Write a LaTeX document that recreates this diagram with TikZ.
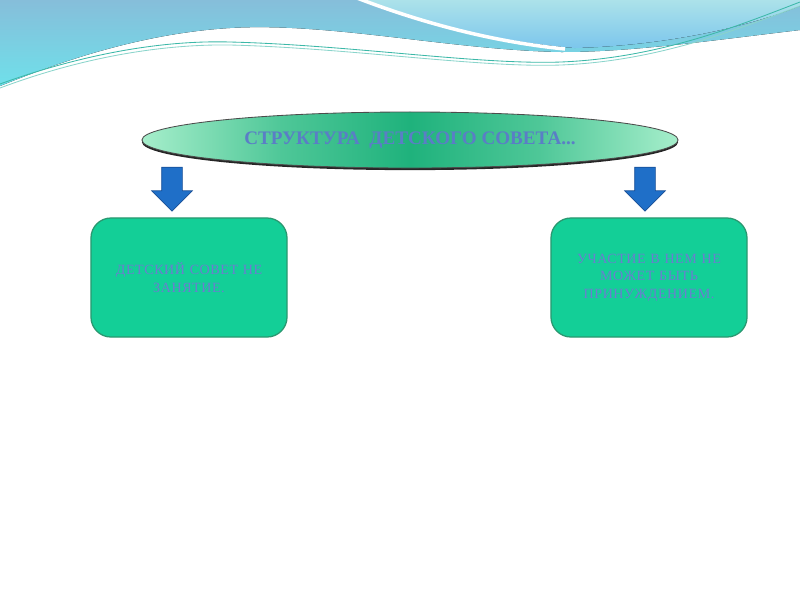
\documentclass[tikz,border=0pt]{standalone}
\usepackage{fontspec}
\setmainfont{Liberation Serif}
\usetikzlibrary{positioning,shapes.geometric,shapes.arrows,shadows}

\definecolor{waveblue}{HTML}{86BEDA}
\definecolor{wavecyan}{HTML}{6FE0EA}
\definecolor{wavelight}{HTML}{ACE2EA}
\definecolor{wavemid}{HTML}{7CC6EC}
\definecolor{waveline}{HTML}{3CB8A8}
\definecolor{ovalmid}{HTML}{1FB27C}
\definecolor{ovaledge}{HTML}{A6EECB}
\definecolor{boxgreen}{HTML}{13CF97}
\definecolor{boxedge}{HTML}{2A9870}
\definecolor{labelblue}{HTML}{6A7ED0}
\definecolor{titleblue}{HTML}{5A7EC6}
\definecolor{arrowblue}{HTML}{1F6FC8}
\definecolor{arrowedge}{HTML}{174E96}

\pgfdeclarehorizontalshading{ovalshade}{100bp}{color(0bp)=(ovaledge); color(25bp)=(ovaledge);
  color(38bp)=(ovalmid!65!ovaledge); color(50bp)=(ovalmid); color(62bp)=(ovalmid!65!ovaledge);
  color(75bp)=(ovaledge); color(100bp)=(ovaledge)}

\begin{document}
\begin{tikzpicture}[
  x=0.025cm,y=-0.025cm,
  titleoval/.style={ellipse,draw=black!70,line width=0.6pt,shading=ovalshade,
    minimum width=13.4cm,minimum height=1.4cm,text=titleblue,font=\bfseries\fontsize{13.6}{16}\selectfont,
    drop shadow={shadow xshift=0pt,shadow yshift=-1.5pt,fill=black,opacity=0.85}},
  infobox/.style={draw=boxedge,line width=0.9pt,fill=boxgreen,rounded corners=0.5cm,
    minimum width=4.9cm,minimum height=2.975cm,text width=4.5cm,align=center,
    text=labelblue,font=\addfontfeature{LetterSpace=4}\fontsize{10}{12.4}\selectfont},
  downarrow/.style={single arrow,rotate=-90,draw=arrowedge,fill=arrowblue,line width=0.5pt,
    minimum height=1.1cm,minimum width=1.0cm,single arrow head extend=0.25cm,inner sep=0.25cm}
]
\useasboundingbox (0,0) rectangle (800,600);
% wave at the top
\fill[top color=waveblue,bottom color=wavecyan] (0,0) -- (800,0) -- (800,30)
  .. controls (700,42) and (630,52) .. (561,52) .. controls (450,50) and (330,22) .. (230,28)
  .. controls (130,34) and (40,70) .. (0,86) -- cycle;
\fill[top color=wavelight,bottom color=wavemid] (362,0) .. controls (430,25) and (500,42) .. (575,48)
  .. controls (680,45) and (760,22) .. (800,6) -- (800,0) -- cycle;
\draw[white,line width=2.5pt] (357,-2) .. controls (425,24) and (495,42) .. (565,49);
\draw[waveline,line width=0.6pt] (0,84) .. controls (80,55) and (160,40) .. (230,42)
  .. controls (350,45) and (480,65) .. (561,62) .. controls (660,58) and (740,25) .. (800,2);
\draw[waveline!60,line width=0.6pt] (0,88) .. controls (80,58) and (160,44) .. (230,45)
  .. controls (350,48) and (480,68) .. (561,65) .. controls (660,61) and (740,28) .. (800,6);

\node[titleoval] (title) at (410,140) {СТРУКТУРА\ \ ДЕТСКОГО СОВЕТА...};
\node[downarrow] (arrowL) at (172,184) {};
\node[downarrow] (arrowR) at (645,184) {};
\node[infobox] (notlesson) at (189,277.5) {ДЕТСКИЙ СОВЕТ НЕ\\ЗАНЯТИЕ.};
\node[infobox] (nocoercion) at (649,277.5) {УЧАСТИЕ В НЕМ НЕ\\МОЖЕТ БЫТЬ\\ПРИНУЖДЕНИЕМ.};
\end{tikzpicture}
\end{document}
